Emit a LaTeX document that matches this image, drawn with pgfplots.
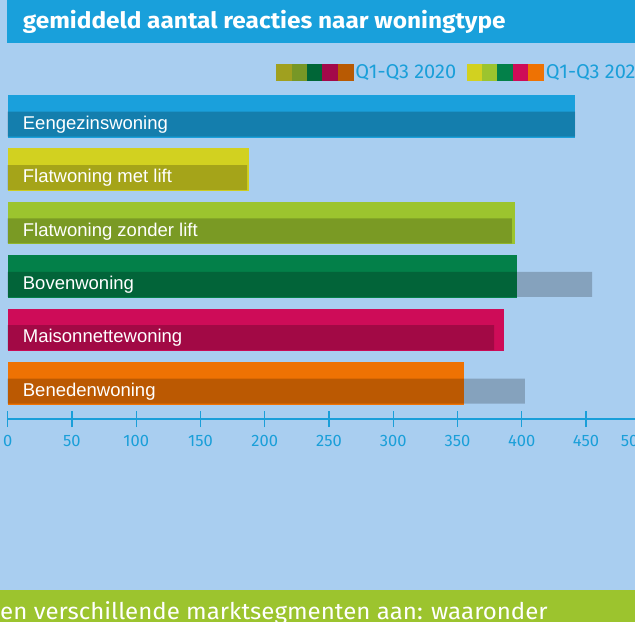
\documentclass[border=0pt]{standalone}
\usepackage{fontspec}
\setmainfont{Fira Sans}
\newfontfamily\arial{Liberation Sans}
\usepackage{pgfplots}
\pgfplotsset{compat=1.18}

\definecolor{bg}{HTML}{A9CEF0}
\definecolor{band}{HTML}{19A0DB}
\definecolor{lime}{HTML}{9CC42E}
\definecolor{tickblue}{HTML}{1A9FD9}
% kleuren 2021
\definecolor{eeng}{HTML}{1AA0DC}
\definecolor{flatmet}{HTML}{D2D120}
\definecolor{flatzonder}{HTML}{9CC42E}
\definecolor{boven}{HTML}{038049}
\definecolor{maison}{HTML}{CE0C58}
\definecolor{beneden}{HTML}{EE7203}
% kleuren 2020
\definecolor{dflatmet}{HTML}{A0A01F}
\definecolor{dflatzonder}{HTML}{779726}
\definecolor{dboven}{HTML}{006637}
\definecolor{dmaison}{HTML}{A3094A}
\definecolor{dbeneden}{HTML}{B85A03}

\begin{document}
\begin{tikzpicture}[x=1pt,y=1pt]
\useasboundingbox (0,0) rectangle (635,622);
\clip (0,0) rectangle (635,622);
\fill[bg] (0,0) rectangle (635,622);
\fill[band] (6.7,578.7) rectangle (635,622);
\node[anchor=base west, inner sep=0pt, text=white, font=\fontsize{22.5}{26}\selectfont\bfseries] at (22.7,593.7) {\scalebox{1.086}[1]{gemiddeld aantal reacties naar woningtype}};
\fill[lime] (0,0) rectangle (635,32);
\node[anchor=base west, inner sep=0pt, text=white, font=\fontsize{23}{26}\selectfont] at (0,2.5) {\scalebox{1.046}[1]{en verschillende marktsegmenten aan: waaronder}};

\begin{axis}[
  at={(7.7pt,203pt)}, anchor=south west,
  x=1.285pt, y=53.4pt,
  xmin=0, xmax=510, ymin=-0.669, ymax=5.4,
  axis x line=bottom, axis y line=none,
  axis line style={-, tickblue, line width=1.2pt},
  xtick={0,50,...,450},
  extra x ticks={500},
  extra x tick style={xticklabel style={xshift=-16pt}},
  tick align=center, major tick length=16pt,
  tick style={tickblue, line width=1.2pt},
  xticklabel style={anchor=base, yshift=-19.5pt, text=tickblue, font=\fontsize{16.5}{18}\selectfont},
  /pgf/number format/assume math mode=true,
  clip=false,
  legend columns=2,
  legend cell align=left,
  legend style={at={(axis description cs:0.4094,1.0707)}, anchor=west, draw=none, fill=none,
    inner sep=0pt, font=\fontsize{20}{23}\selectfont, text=tickblue,
    nodes={inner sep=2pt},
    /tikz/every even column/.append style={column sep=8.5pt}},
]
\addlegendimage{legend image code/.code={
  \fill[dflatmet] (0pt,-8pt) rectangle (15.35pt,8pt);
  \fill[dflatzonder] (15.35pt,-8pt) rectangle (30.7pt,8pt);
  \fill[dboven] (30.7pt,-8pt) rectangle (46.05pt,8pt);
  \fill[dmaison] (46.05pt,-8pt) rectangle (61.4pt,8pt);
  \fill[dbeneden] (61.4pt,-8pt) rectangle (76.75pt,8pt);}}
\addlegendimage{legend image code/.code={
  \fill[flatmet] (0pt,-8pt) rectangle (15.35pt,8pt);
  \fill[flatzonder] (15.35pt,-8pt) rectangle (30.7pt,8pt);
  \fill[boven] (30.7pt,-8pt) rectangle (46.05pt,8pt);
  \fill[maison] (46.05pt,-8pt) rectangle (61.4pt,8pt);
  \fill[beneden] (61.4pt,-8pt) rectangle (76.75pt,8pt);}}
\legend{Q1-Q3 2020, Q1-Q3 2021}

% Q1-Q3 2021 (volle balken)
\addplot[xbar, bar width=42.7pt, bar shift=0pt, fill=eeng, draw=none] coordinates {(441.5,5)};
\addplot[xbar, bar width=42.7pt, bar shift=0pt, fill=flatmet, draw=none] coordinates {(187.9,4)};
\addplot[xbar, bar width=42.7pt, bar shift=0pt, fill=flatzonder, draw=none] coordinates {(394.8,3)};
\addplot[xbar, bar width=42.7pt, bar shift=0pt, fill=boven, draw=none] coordinates {(396.5,2)};
\addplot[xbar, bar width=42.7pt, bar shift=0pt, fill=maison, draw=none] coordinates {(386.4,1)};
\addplot[xbar, bar width=42.7pt, bar shift=0pt, fill=beneden, draw=none] coordinates {(355.2,0)};
% Q1-Q3 2020 (donkere overlay)
\addplot[xbar, bar width=25pt, bar shift=-7.85pt, fill=black, fill opacity=0.21, draw=none]
  coordinates {(441.5,5) (186.3,4) (392.4,3) (454.8,2) (378.5,1) (402.5,0)};

\foreach \lab [count=\i from 0] in {Benedenwoning,Maisonnettewoning,Bovenwoning,Flatwoning zonder lift,Flatwoning met lift,Eengezinswoning}{
  \edef\tmp{\noexpand\node[anchor=base west, inner sep=0pt, text=white, font=\noexpand\arial\noexpand\fontsize{18.5}{21}\noexpand\selectfont]
    at ([xshift=15pt,yshift=-12.95pt]axis cs:0,\i) {\lab};}
  \tmp
}
\end{axis}
\end{tikzpicture}
\end{document}
